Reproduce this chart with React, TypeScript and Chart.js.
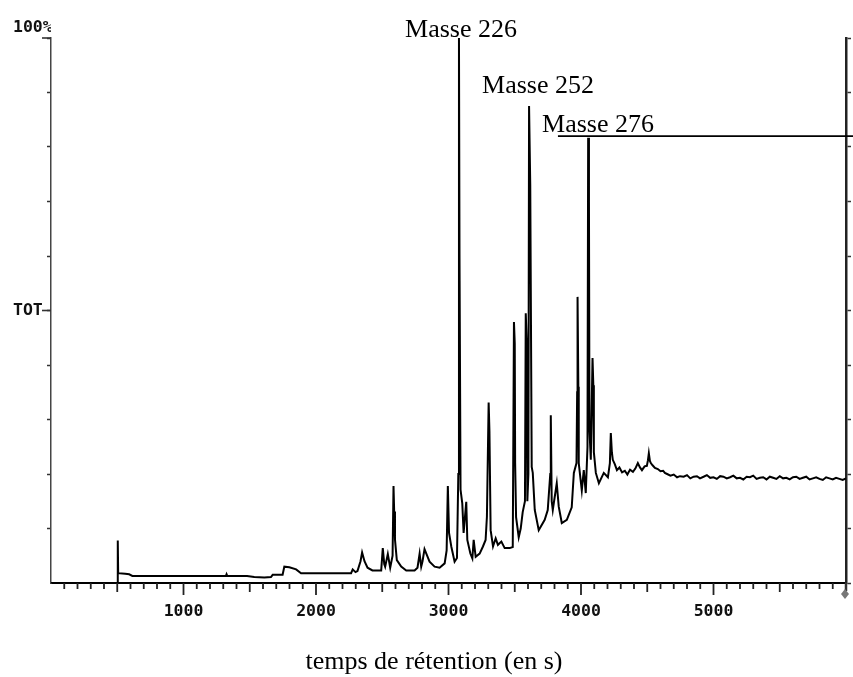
import React, { useEffect, useRef } from 'react';
import { Chart, registerables } from 'chart.js';

Chart.register(...registerables);

// Retention time (s) and total ion current (% of max)
const retentionTime = [
  0, 490, 500, 504, 507, 560, 590, 614, 900, 1320,
  1325, 1330, 1480, 1534, 1610, 1660, 1673, 1748, 1761, 1799,
  1850, 1887, 2177, 2265, 2277, 2298, 2313, 2336, 2348, 2366,
  2389, 2426, 2492, 2504, 2515, 2522, 2542, 2560, 2578, 2585,
  2590, 2596, 2610, 2643, 2681, 2744, 2766, 2782, 2794, 2804,
  2819, 2857, 2895, 2933, 2971, 2986, 2995, 3004, 3021, 3046,
  3064, 3074, 3079, 3083, 3091, 3104, 3114, 3134, 3142, 3165,
  3180, 3190, 3205, 3235, 3260, 3280, 3290, 3303, 3309, 3318,
  3336, 3356, 3373, 3399, 3424, 3462, 3485, 3494, 3500, 3503,
  3510, 3530, 3545, 3560, 3577, 3583, 3590, 3595, 3603, 3608,
  3617, 3628, 3636, 3651, 3681, 3726, 3749, 3768, 3772, 3779,
  3787, 3817, 3832, 3855, 3893, 3930, 3946, 3966, 3971, 3974,
  3980, 3983, 4006, 4021, 4036, 4049, 4054, 4060, 4064, 4074,
  4087, 4093, 4097, 4112, 4135, 4172, 4203, 4218, 4225, 4233,
  4240, 4255, 4271, 4290, 4310, 4331, 4350, 4370, 4392, 4410,
  4429, 4445, 4460, 4480, 4497, 4505, 4512, 4520, 4527, 4540,
  4558, 4580, 4600, 4620, 4633, 4650, 4675, 4700, 4725, 4747,
  4775, 4800, 4825, 4850, 4875, 4898, 4925, 4950, 4975, 5000,
  5025, 5050, 5075, 5100, 5125, 5150, 5175, 5200, 5225, 5250,
  5275, 5300, 5325, 5350, 5375, 5400, 5425, 5450, 5475, 5500,
  5525, 5550, 5575, 5600, 5625, 5650, 5675, 5700, 5725, 5750,
  5775, 5800, 5825, 5850, 5875, 5900, 5925, 5950, 5975, 6000,
];

const intensity = [
  0, 0, 0, 7.8, 1.8, 1.7, 1.6, 1.3, 1.3, 1.3,
  1.6, 1.3, 1.3, 1.1, 1.0, 1.1, 1.5, 1.5, 3.0, 2.9,
  2.5, 1.8, 1.8, 1.8, 2.5, 2.0, 2.2, 4.0, 5.6, 4.0,
  2.8, 2.3, 2.3, 6.4, 3.5, 3.0, 5.3, 2.8, 5.0, 17.8,
  13.1, 8.0, 4.2, 3.0, 2.3, 2.3, 2.8, 5.4, 3.0, 4.0,
  6.2, 3.9, 3.0, 2.8, 3.6, 6.0, 17.8, 9.2, 6.7, 3.9,
  4.6, 20.0, 100, 60, 17.1, 14.6, 9.2, 14.9, 7.9, 5.4,
  4.5, 7.9, 4.8, 5.4, 6.7, 7.9, 12.2, 33.1, 27.8, 9.7,
  6.7, 8.2, 7.0, 7.6, 6.4, 6.4, 6.6, 47.9, 44.0, 22.0,
  12.1, 8.4, 10.0, 13.0, 15.0, 49.5, 44.6, 15.0, 20.0, 87.5,
  73.0, 21.3, 20.2, 13.4, 9.7, 11.6, 13.4, 20.0, 30.8, 15.0,
  13.4, 18.3, 14.0, 11.0, 11.6, 13.9, 20.2, 22.0, 35.0, 52.5,
  36.0, 22.0, 17.0, 20.7, 16.5, 25.0, 81.7, 70.0, 28.0, 22.6,
  41.3, 36.3, 24.0, 20.2, 18.3, 20.2, 19.4, 22.0, 27.5, 24.0,
  22.6, 21.8, 20.7, 21.2, 20.3, 20.6, 19.9, 20.8, 20.4, 21.0,
  22.0, 21.2, 20.7, 21.4, 21.5, 22.5, 23.8, 22.4, 22.0, 21.6,
  21.1, 20.9, 20.5, 20.6, 20.2, 20.0, 19.7, 19.9, 19.4, 19.6,
  19.5, 19.8, 19.2, 19.5, 19.6, 19.2, 19.5, 19.8, 19.3, 19.4,
  19.1, 19.6, 19.5, 19.2, 19.4, 19.7, 19.2, 19.3, 19.0, 19.5,
  19.4, 19.7, 19.1, 19.3, 19.4, 19.0, 19.5, 19.3, 19.1, 19.6,
  19.2, 19.3, 19.0, 19.4, 19.5, 19.1, 19.3, 19.5, 19.0, 19.2,
  19.4, 19.1, 18.9, 19.4, 19.2, 19.0, 19.3, 19.1, 18.9, 19.2,
];

// Axis labels
const xLabelValues = [1000, 2000, 3000, 4000, 5000];
const yLabelValues = [100, 50];
const yLabelTexts = ['100%', 'TOT'];
const xAxisTitle = 'temps de rétention (en s)';

// Peak annotations (text, anchor time, anchor level)
const peakLabels = ['Masse 226', 'Masse 252', 'Masse 276'];
const peakLabelTime = [2672, 3253, 3706];
const peakLabelLevel = [100.2, 89.9, 82.75];
const massLineStart = 3826;
const massLineLevel = 82;

const annotationPlugin = {
  id: 'chromAnnotations',
  afterDraw(chart: any) {
    const { ctx, scales } = chart;
    const x = scales.x;
    const y = scales.y;
    const area = chart.chartArea;
    ctx.save();

    // x tick marks: 100 s minor, 500 s medium, 1000 s major
    ctx.strokeStyle = '#222';
    ctx.lineWidth = 1.8;
    for (let t = 100; t < 6000; t += 100) {
      const px = x.getPixelForValue(t);
      const len = t % 1000 === 0 ? 12 : t % 500 === 0 ? 9 : 6;
      ctx.beginPath();
      ctx.moveTo(px, area.bottom);
      ctx.lineTo(px, area.bottom + len);
      ctx.stroke();
    }

    // longer y tick marks at labelled values
    ctx.lineWidth = 1.6;
    ctx.strokeStyle = '#333';
    yLabelValues.forEach((v) => {
      const py = y.getPixelForValue(v);
      ctx.beginPath();
      ctx.moveTo(area.left - 9, py);
      ctx.lineTo(area.left, py);
      ctx.stroke();
    });

    // peak labels
    ctx.fillStyle = '#000';
    ctx.font = '26px "Liberation Serif", "Times New Roman", serif';
    ctx.textAlign = 'left';
    ctx.textBaseline = 'alphabetic';
    peakLabels.forEach((s, i) => {
      ctx.fillText(s, x.getPixelForValue(peakLabelTime[i]), y.getPixelForValue(peakLabelLevel[i]));
    });

    // horizontal marker line
    ctx.strokeStyle = '#000';
    ctx.lineWidth = 1.6;
    const ly = y.getPixelForValue(massLineLevel);
    ctx.beginPath();
    ctx.moveTo(x.getPixelForValue(massLineStart), ly);
    ctx.lineTo(chart.width, ly);
    ctx.stroke();

    // axis title
    ctx.textAlign = 'center';
    ctx.fillText(xAxisTitle, 434, 669);

    // diamond marker at end of axis
    const dx = x.getPixelForValue(6000) - 1;
    const dy = area.bottom + 11;
    ctx.strokeStyle = '#333';
    ctx.lineWidth = 2.5;
    ctx.beginPath();
    ctx.moveTo(dx + 1, area.bottom);
    ctx.lineTo(dx + 1, dy - 3);
    ctx.stroke();
    ctx.fillStyle = '#777';
    ctx.beginPath();
    ctx.moveTo(dx, dy - 5);
    ctx.lineTo(dx + 4, dy);
    ctx.lineTo(dx, dy + 5);
    ctx.lineTo(dx - 4, dy);
    ctx.closePath();
    ctx.fill();

    ctx.restore();
  },
};

export default function App() {
  const canvasRef = useRef<HTMLCanvasElement | null>(null);

  useEffect(() => {
    if (!canvasRef.current) return;
    const points = retentionTime.map((t, i) => ({ x: t, y: intensity[i] }));
    const tickFont = { family: '"DejaVu Sans Mono", "Liberation Mono", monospace', size: 16.5, weight: 'bold' as const };

    const chart = new Chart(canvasRef.current, {
      type: 'line',
      data: {
        datasets: [
          {
            data: points,
            borderColor: '#000',
            borderWidth: 2,
            pointRadius: 0,
            tension: 0,
            fill: false,
          },
        ],
      },
      options: {
        animation: false,
        responsive: false,
        events: [],
        layout: { padding: { top: 38, left: 13, right: 0, bottom: 0 } },
        plugins: {
          legend: { display: false },
          tooltip: { enabled: false },
          title: { display: false },
        },
        scales: {
          x: {
            type: 'linear',
            min: 0,
            max: 6000,
            afterFit: (s: any) => {
              s.height = 94;
            },
            border: { display: true, color: '#000', width: 2 },
            grid: {
              display: true,
              drawOnChartArea: false,
              drawTicks: true,
              tickLength: 19,
              tickColor: 'rgba(0,0,0,0)',
            },
            ticks: {
              stepSize: 1000,
              autoSkip: false,
              maxRotation: 0,
              padding: 0,
              color: '#111',
              font: tickFont,
              callback: (v: any) => (xLabelValues.includes(Number(v)) ? String(v) : ''),
            },
          },
          y: {
            type: 'linear',
            position: 'left',
            min: 0,
            max: 100,
            afterFit: (s: any) => {
              s.width = 38;
            },
            border: { display: true, color: '#444', width: 1.5 },
            grid: {
              display: true,
              drawOnChartArea: false,
              drawTicks: true,
              tickLength: 4,
              tickWidth: 1.5,
              tickColor: (c: any) => (c.tick && c.tick.value === 0 ? 'rgba(0,0,0,0)' : '#333'),
            },
            ticks: {
              stepSize: 10,
              autoSkip: false,
              crossAlign: 'far',
              color: '#111',
              font: tickFont,
              callback: (v: any) => {
                const i = yLabelValues.indexOf(Number(v));
                if (i < 0) return '';
                return Number(v) === 100 ? [yLabelTexts[i], ''] : yLabelTexts[i];
              },
            },
          },
          y2: {
            type: 'linear',
            position: 'right',
            min: 0,
            max: 100,
            afterFit: (s: any) => {
              s.width = 7;
            },
            border: { display: true, color: '#222', width: 2.5 },
            grid: {
              display: true,
              drawOnChartArea: false,
              drawTicks: true,
              tickLength: 5,
              tickWidth: 1.5,
              tickColor: '#333',
            },
            ticks: {
              stepSize: 10,
              autoSkip: false,
              padding: 0,
              callback: () => '',
            },
          },
        },
      },
      plugins: [annotationPlugin],
    } as any);

    return () => chart.destroy();
  }, []);

  return (
    <div style={{ position: 'absolute', left: 0, top: 0, width: 853, height: 677, background: '#fff' }}>
      <canvas ref={canvasRef} width={853} height={677} style={{ display: 'block' }} />
    </div>
  );
}
